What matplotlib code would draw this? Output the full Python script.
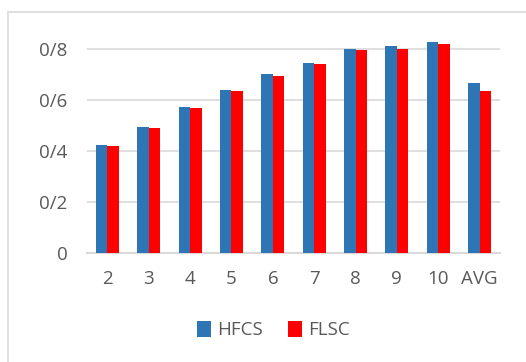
import numpy as np
import matplotlib
matplotlib.use("Agg")
import matplotlib.pyplot as plt
from matplotlib.patches import Rectangle

# datos del grafico
categories = ["2", "3", "4", "5", "6", "7", "8", "9", "10", "AVG"]
hfcs = [0.424, 0.494, 0.575, 0.640, 0.702, 0.745, 0.800, 0.813, 0.829, 0.670]
flsc = [0.421, 0.490, 0.572, 0.636, 0.697, 0.742, 0.796, 0.801, 0.822, 0.635]
yticks = [0, 0.2, 0.4, 0.6, 0.8]
ytick_labels = ["0", "0/2", "0/4", "0/6", "0/8"]

plt.rcParams['font.family'] = ['Open Sans', 'DejaVu Sans']
text_color = "#595959"

fig = plt.figure(figsize=(5.26, 3.62), dpi=100)
ax = fig.add_axes([0.165, 0.30, 0.786, 0.634])

# marco gris del grafico
fig.patches.append(Rectangle((8 / 526, -0.01), 1.0, 1 - 12 / 362 + 0.01,
                             transform=fig.transFigure, fill=False,
                             edgecolor="#d9d9d9", linewidth=1.2))

x = np.arange(len(categories))
w = 0.28
ax.bar(x - w / 2, hfcs, w, color="#2E75B6", label="HFCS", zorder=3)
ax.bar(x + w / 2, flsc, w, color="#FF0000", label="FLSC", zorder=3)

ax.set_xlim(-0.5, len(categories) - 0.5)
ax.set_ylim(0, 0.9)
ax.set_yticks(yticks)
ax.set_yticklabels(ytick_labels)
ax.set_xticks(x)
ax.set_xticklabels(categories)
ax.tick_params(axis='both', length=0, labelsize=13.5, colors=text_color)
ax.tick_params(axis='y', pad=14)
ax.tick_params(axis='x', pad=12)

ax.grid(axis='y', color="#d9d9d9", linewidth=1.2, zorder=0)
for s in ["top", "right", "left"]:
    ax.spines[s].set_visible(False)
ax.spines["bottom"].set_color("#d9d9d9")
ax.spines["bottom"].set_linewidth(1.5)

leg = fig.legend(loc="center", bbox_to_anchor=(0.52, 1 - 330 / 362), ncol=2,
                 frameon=False, fontsize=13.5, handlelength=0.75, handleheight=0.95,
                 handletextpad=0.35, columnspacing=1.3)
for t in leg.get_texts():
    t.set_color(text_color)

fig.savefig("out.png", dpi=100)
